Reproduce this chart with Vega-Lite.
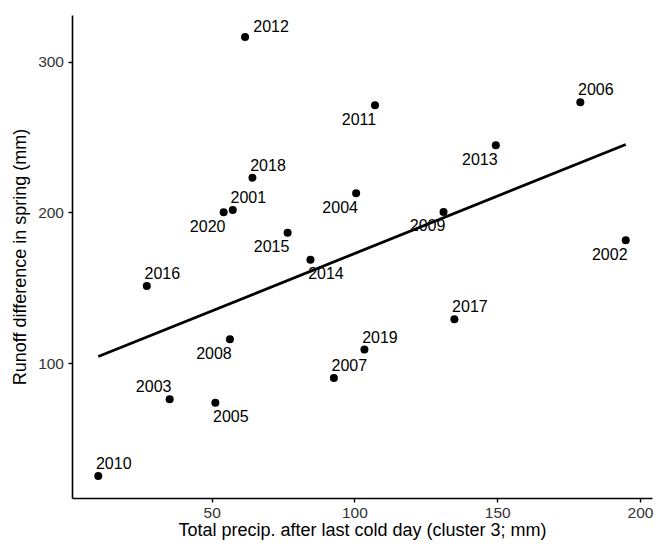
{
  "$schema": "https://vega.github.io/schema/vega-lite/v6.json",
  "width": 580,
  "height": 483,
  "autosize": {"type": "none"},
  "padding": {"left": 72, "top": 15, "right": 4, "bottom": 50},
  "background": "white",
  "config": {
    "view": {"stroke": null},
    "font": "Liberation Sans",
    "axis": {
      "grid": false,
      "domainColor": "black",
      "domainWidth": 1.6,
      "tickColor": "black",
      "tickWidth": 1.4,
      "tickSize": 4,
      "labelFont": "Liberation Sans",
      "labelFontSize": 15.5,
      "labelColor": "#333333",
      "titleFont": "Liberation Sans",
      "titleFontSize": 18,
      "titleFontWeight": "normal",
      "titleColor": "black"
    }
  },
  "datasets": {
    "pts": [
      {"year": "2001", "precip": 57.4, "runoff": 201.6},
      {"year": "2002", "precip": 195.0, "runoff": 181.5},
      {"year": "2003", "precip": 35.3, "runoff": 76.1},
      {"year": "2004", "precip": 100.6, "runoff": 212.7},
      {"year": "2005", "precip": 51.3, "runoff": 73.8},
      {"year": "2006", "precip": 179.1, "runoff": 273.0},
      {"year": "2007", "precip": 92.8, "runoff": 90.2},
      {"year": "2008", "precip": 56.4, "runoff": 115.8},
      {"year": "2009", "precip": 131.2, "runoff": 200.3},
      {"year": "2010", "precip": 10.3, "runoff": 25.2},
      {"year": "2011", "precip": 107.2, "runoff": 271.0},
      {"year": "2012", "precip": 61.7, "runoff": 316.3},
      {"year": "2013", "precip": 149.5, "runoff": 244.5},
      {"year": "2014", "precip": 84.6, "runoff": 168.6},
      {"year": "2015", "precip": 76.6, "runoff": 186.5},
      {"year": "2016", "precip": 27.3, "runoff": 151.2},
      {"year": "2017", "precip": 135.0, "runoff": 129.1},
      {"year": "2018", "precip": 64.3, "runoff": 223.0},
      {"year": "2019", "precip": 103.5, "runoff": 109.0},
      {"year": "2020", "precip": 54.2, "runoff": 200.1}
    ],
    "fit": [
      {"precip": 10.3, "runoff": 104.4},
      {"precip": 195.0, "runoff": 245.0}
    ]
  },
  "data": {"name": "pts"},
  "encoding": {
    "x": {
      "field": "precip",
      "type": "quantitative",
      "scale": {"domain": [1.1, 204.2], "nice": false, "zero": false},
      "axis": {"title": "Total precip. after last cold day (cluster 3; mm)", "values": [50, 100, 150, 200], "labelPadding": 3, "titlePadding": 1}
    },
    "y": {
      "field": "runoff",
      "type": "quantitative",
      "scale": {"domain": [10.6, 330.9], "nice": false, "zero": false},
      "axis": {"title": "Runoff difference in spring (mm)", "values": [100, 200, 300], "labelPadding": 4.5, "titlePadding": 8}
    }
  },
  "layer": [
    {
      "data": {"name": "fit"},
      "mark": {"type": "line", "color": "black", "strokeWidth": 2.8}
    },
    {
      "mark": {"type": "circle", "color": "black", "opacity": 1, "size": 64}
    },
    {
      "transform": [{"filter": {"field": "year", "oneOf": ["2018", "2001", "2006", "2016", "2007", "2010", "2019", "2017"]}}],
      "mark": {"type": "text", "fontSize": 16, "color": "black", "align": "center", "baseline": "middle", "dx": 15.5, "dy": -12},
      "encoding": {"text": {"field": "year"}}
    },
    {
      "transform": [{"filter": {"field": "year", "oneOf": ["2012"]}}],
      "mark": {"type": "text", "fontSize": 16, "color": "black", "align": "center", "baseline": "middle", "dx": 26, "dy": -10},
      "encoding": {"text": {"field": "year"}}
    },
    {
      "transform": [{"filter": {"field": "year", "oneOf": ["2020", "2015", "2004", "2011", "2013", "2009", "2002", "2008"]}}],
      "mark": {"type": "text", "fontSize": 16, "color": "black", "align": "center", "baseline": "middle", "dx": -16, "dy": 14.5},
      "encoding": {"text": {"field": "year"}}
    },
    {
      "transform": [{"filter": {"field": "year", "oneOf": ["2014", "2005"]}}],
      "mark": {"type": "text", "fontSize": 16, "color": "black", "align": "center", "baseline": "middle", "dx": 15.5, "dy": 14},
      "encoding": {"text": {"field": "year"}}
    },
    {
      "transform": [{"filter": {"field": "year", "oneOf": ["2003"]}}],
      "mark": {"type": "text", "fontSize": 16, "color": "black", "align": "center", "baseline": "middle", "dx": -16, "dy": -12},
      "encoding": {"text": {"field": "year"}}
    },
    {
      "data": {"values": [{}]},
      "mark": {"type": "text", "text": "R", "fontStyle": "italic", "fontSize": 16, "color": "black", "align": "left", "baseline": "middle"},
      "encoding": {"x": {"datum": 7.5}, "y": {"datum": 298.2}}
    },
    {
      "data": {"values": [{}]},
      "mark": {"type": "text", "text": "² = 0.31", "fontSize": 16, "color": "black", "align": "left", "baseline": "middle", "dx": 11.6},
      "encoding": {"x": {"datum": 7.5}, "y": {"datum": 298.2}}
    },
    {
      "data": {"values": [{}]},
      "mark": {"type": "text", "text": "p", "fontStyle": "italic", "fontSize": 16, "color": "black", "align": "left", "baseline": "middle"},
      "encoding": {"x": {"datum": 7.5}, "y": {"datum": 281.2}}
    },
    {
      "data": {"values": [{}]},
      "mark": {"type": "text", "text": " = 0.014", "fontSize": 16, "color": "black", "align": "left", "baseline": "middle", "dx": 8.9},
      "encoding": {"x": {"datum": 7.5}, "y": {"datum": 281.2}}
    }
  ]
}
